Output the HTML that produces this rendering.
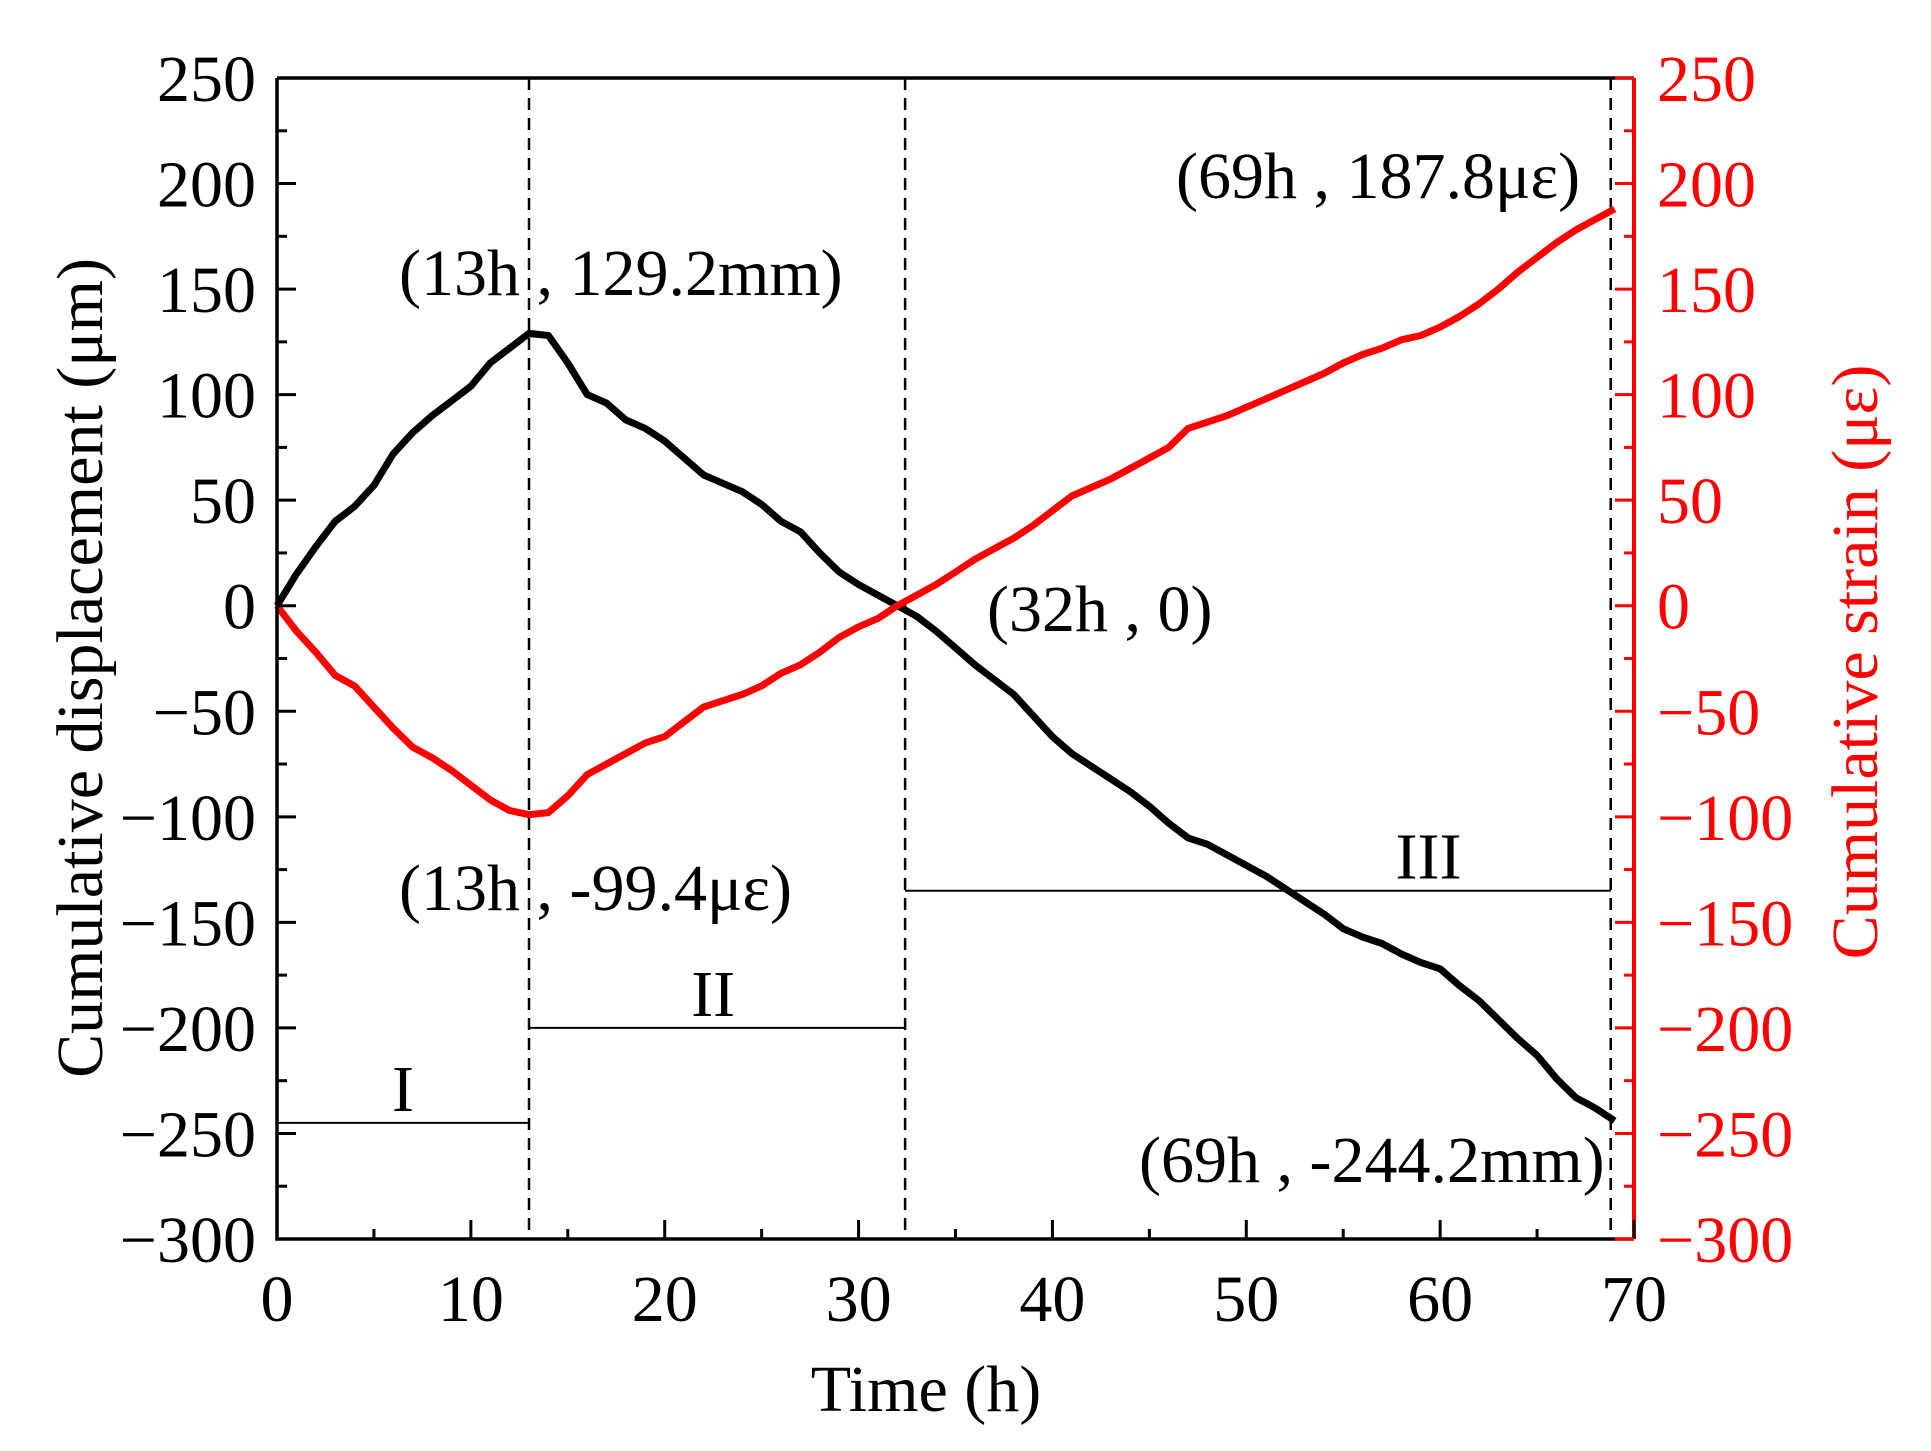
<!DOCTYPE html>
<html><head><meta charset="utf-8"><style>
body{margin:0;background:#fff}
svg{display:block;font-family:"Liberation Serif",serif}
</style></head><body>
<svg id="chart" width="1931" height="1451" viewBox="0 0 1931 1451" xmlns="http://www.w3.org/2000/svg">
<rect width="1931" height="1451" fill="#fff"/>
<g id="g"></g>
</svg>
<script>
const hours=[0,1,2,3,4,5,6,7,8,9,10,11,12,13,14,15,16,17,18,19,20,21,22,23,24,25,26,27,28,29,30,31,32,33,34,35,36,37,38,39,40,41,42,43,44,45,46,47,48,49,50,51,52,53,54,55,56,57,58,59,60,61,62,63,64,65,66,67,68,69];
const displacement=[0,15,28,40,47,57,72,82,90,97,104,115,122,129,128,115,100,96,88,84,78,70,62,58,54,48,40,35,25,16,10,5,0,-5,-12,-20,-28,-35,-42,-52,-62,-70,-76,-82,-88,-95,-103,-110,-113,-118,-123,-128,-134,-140,-146,-153,-157,-160,-165,-169,-172,-180,-187,-196,-205,-213,-224,-233,-238,-244];
const strain=[0,-12,-22,-33,-38,-48,-58,-67,-72,-78,-85,-92,-97,-99,-98,-90,-80,-75,-70,-65,-62,-55,-48,-45,-42,-38,-32,-28,-22,-15,-10,-6,0,5,10,16,22,27,32,38,45,52,56,60,65,70,75,84,87,90,94,98,102,106,110,115,119,122,126,128,132,137,143,150,158,165,172,178,183,188];
const xTicks=[0,10,20,30,40,50,60,70];
const yTicks=[250,200,150,100,50,0,-50,-100,-150,-200,-250,-300];
const yTickLabels=["250","200","150","100","50","0","\u221250","\u2212100","\u2212150","\u2212200","\u2212250","\u2212300"];
const stageX=[13,32.4,68.8];
const stages=[{x0:0,x1:13,y:-245,label:"I",lx:6.5},{x0:13,x1:32.4,y:-200,label:"II",lx:22.5},{x0:32.4,x1:68.8,y:-135,label:"III",lx:59.4}];

const L=277,R=1634,T=78,B=1239;
const sx=v=>L+(v-0)/70*(R-L);
const sy=v=>T+(250-v)/550*(B-T);
const NS="http://www.w3.org/2000/svg";
const g=document.getElementById('g');
function mk(tag,attrs,parent){const e=document.createElementNS(NS,tag);for(const k in attrs)e.setAttribute(k,attrs[k]);(parent||g).appendChild(e);return e;}
function txt(x,y,s,attrs){const e=mk('text',Object.assign({x:x,y:y},attrs||{}));e.textContent=s;return e;}

stageX.forEach(v=>{const e=mk('line',{x1:sx(v),x2:sx(v),y1:T,y2:B,stroke:'#000','stroke-width':2.5,'stroke-dasharray':'12,8'});

});
stages.forEach(s=>{const e=mk('line',{x1:sx(s.x0),x2:sx(s.x1),y1:sy(s.y),y2:sy(s.y),stroke:'#000','stroke-width':2});


const t=txt(sx(s.lx),sy(s.y)-12,s.label,{'font-size':66,'text-anchor':'middle'});

});

function series(vals,color,name){const d=hours.map((h,i)=>(i?'L':'M')+sx(h).toFixed(1)+','+sy(vals[i]).toFixed(1)).join('');
const p=mk('path',{d:d,fill:'none',stroke:color,'stroke-width':7,'stroke-linejoin':'round'});

}
series(displacement,'#000','displacement-line');
series(strain,'#f00','strain-line');

const ax=mk('path',{d:`M${L},${T}H${R}M${L},${T}V${B}H${R}`,stroke:'#000','stroke-width':3.5,fill:'none'});


const ra=mk('line',{x1:R,x2:R,y1:T,y2:B,stroke:'#f00','stroke-width':4});



xTicks.forEach((v,i)=>{mk('line',{x1:sx(v),x2:sx(v),y1:B,y2:B-19,stroke:'#000','stroke-width':3});
if(i<xTicks.length-1)mk('line',{x1:sx(v+5),x2:sx(v+5),y1:B,y2:B-10,stroke:'#000','stroke-width':3});
const t=txt(sx(v),1321,String(v),{'font-size':66,'text-anchor':'middle'});

});
yTicks.forEach((v,i)=>{mk('line',{x1:L,x2:L+19,y1:sy(v),y2:sy(v),stroke:'#000','stroke-width':3});
mk('line',{x1:R,x2:R-19,y1:sy(v),y2:sy(v),stroke:'#f00','stroke-width':3});
if(i<yTicks.length-1){mk('line',{x1:L,x2:L+10,y1:sy(v-25),y2:sy(v-25),stroke:'#000','stroke-width':3});
mk('line',{x1:R,x2:R-10,y1:sy(v-25),y2:sy(v-25),stroke:'#f00','stroke-width':3});}
const t=txt(256,sy(v)+23,yTickLabels[i],{'font-size':66,'text-anchor':'end'});


const t2=txt(1657,sy(v)+23,yTickLabels[i],{'font-size':66,fill:'#f00'});

});
</script>
<svg style="position:absolute;left:0;top:0" width="1931" height="1451">
<g font-family="Liberation Serif, serif" font-size="66">
<text x="926" y="1411" text-anchor="middle">Time (h)</text>
<text transform="translate(102,668) rotate(-90)" text-anchor="middle">Cumulative displacement (μm)</text>
<text fill="#f00" transform="translate(1877,662) rotate(-90)" text-anchor="middle">Cumulative strain (με)</text>
<text x="399" y="295">(13h , 129.2mm)</text>
<text x="399" y="910">(13h , -99.4με)</text>
<text x="987" y="631">(32h , 0)</text>
<text x="1176" y="198">(69h , 187.8με)</text>
<text x="1139" y="1182">(69h , -244.2mm)</text>
</g>
</svg>
</body></html>
